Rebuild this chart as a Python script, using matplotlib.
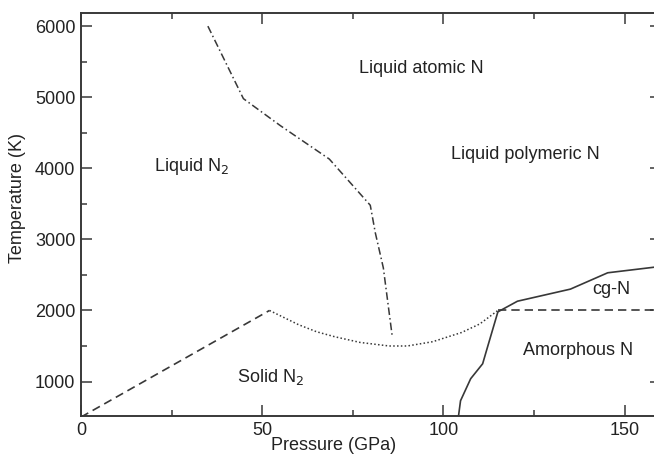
import matplotlib
matplotlib.use("Agg")
import matplotlib.pyplot as plt
from matplotlib.ticker import MultipleLocator

plt.rcParams["font.family"] = ["Liberation Sans", "DejaVu Sans"]

# phase boundaries (pressure in GPa, temperature in K)
melt_p = [0, 52]
melt_t = [500, 2000]

dissoc_p = [35, 44.8, 55, 68.5, 79.8, 81.2, 83.4, 85.9]
dissoc_t = [6000, 4980, 4600, 4130, 3480, 3090, 2600, 1620]

polymer_p = [52, 56, 60, 65, 70, 77, 85, 90, 97, 105, 110, 115]
polymer_t = [2000, 1900, 1800, 1700, 1630, 1550, 1500, 1500, 1560, 1690, 1810, 2000]

cgn_p = [104.1, 104.7, 107.5, 110.8, 112, 115, 120.4, 135, 145.3, 160]
cgn_t = [500, 730, 1040, 1250, 1460, 1980, 2130, 2300, 2530, 2620]

amorph_p = [115, 160]
amorph_t = [2000, 2000]

labels = ["Liquid atomic N", "Liquid polymeric N", "Liquid N$_2$", "Solid N$_2$", "cg-N", "Amorphous N"]
label_p = [94, 122.7, 30.5, 52.3, 146.4, 137]
label_t = [5400, 4190, 4020, 1060, 2300, 1430]

ink = "#383838"
txt = "#222222"

fig = plt.figure(figsize=(6.54, 4.57), dpi=100)
# the right spine sits just past the picture's edge, as in the source
ax = fig.add_axes([81 / 654, 1 - 416 / 457, 580 / 654, 403 / 457])

ax.plot(melt_p, melt_t, color=ink, lw=1.2, linestyle=(0, (5, 3)))
ax.plot(dissoc_p, dissoc_t, color=ink, lw=1.1, linestyle=(0, (5, 2, 1, 2)))
ax.plot(polymer_p, polymer_t, color=ink, lw=1.1, linestyle=(0, (1, 1.5)))
ax.plot(cgn_p, cgn_t, color=ink, lw=1.2)
ax.plot(amorph_p, amorph_t, color=ink, lw=1.2, linestyle=(0, (5, 3)))

for s, x, y in zip(labels, label_p, label_t):
    ax.text(x, y, s, ha="center", va="center", fontsize=13, color=txt)

ax.set_xlim(0, 160)
ax.set_ylim(515, 6185)
ax.xaxis.set_major_locator(MultipleLocator(50))
ax.xaxis.set_minor_locator(MultipleLocator(25))
ax.yaxis.set_major_locator(MultipleLocator(1000))
ax.yaxis.set_minor_locator(MultipleLocator(500))
ax.set_yticks([1000, 2000, 3000, 4000, 5000, 6000])

ax.tick_params(which="both", direction="in", top=True, right=True, colors=ink,
               labelcolor=txt, labelsize=13, width=1.1)
ax.tick_params(which="major", length=8, pad=4)
ax.tick_params(which="minor", length=4.3)
for sp in ax.spines.values():
    sp.set_color(ink)
    sp.set_linewidth(1.4)

ax.set_xlabel("Pressure (GPa)", fontsize=13, color=txt)
ax.set_ylabel("Temperature (K)", fontsize=13, color=txt)
ax.xaxis.set_label_coords(0.435, -0.052)
ax.yaxis.set_label_coords(-0.095, 0.54)

fig.savefig("out.png", dpi=100)
